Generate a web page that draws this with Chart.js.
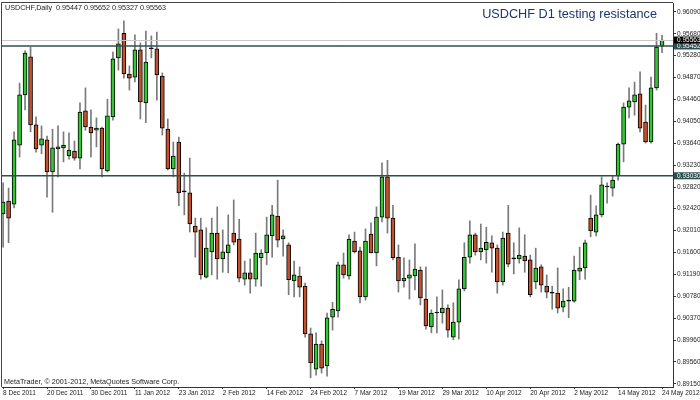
<!DOCTYPE html>
<html>
<head>
<meta charset="utf-8">
<script src="https://cdn.jsdelivr.net/npm/chart.js@4.4.1/dist/chart.umd.min.js"></script>
<style>
  html, body { margin: 0; padding: 0; background: #fff; }
  #wrap { width: 700px; height: 400px; }
</style>
</head>
<body>
<div id="wrap"><canvas id="chart" width="700" height="400"></canvas></div>
<script>
// ===== Datos =====
const dateLabels = ['8 Dec 2011','20 Dec 2011','30 Dec 2011','11 Jan 2012','23 Jan 2012','2 Feb 2012','14 Feb 2012','24 Feb 2012',
  '7 Mar 2012','19 Mar 2012','29 Mar 2012','10 Apr 2012','20 Apr 2012','2 May 2012','14 May 2012','24 May 2012'];
const priceTicks = [0.96090,0.95680,0.95280,0.94870,0.94460,0.94050,0.93640,0.93230,0.92820,0.92420,0.92010,0.91600,0.91190,0.90780,0.90370,0.89960,0.89560,0.89150];
const levels = [0.95452, 0.93030];
const bidPrice = 0.95563;

const openP = [0.9232,0.9256,0.9250,0.9360,0.9454,0.9525,0.9398,0.9360,0.9370,0.9310,
  0.9353,0.9355,0.9340,0.9349,0.9336,0.9424,0.9394,0.9388,0.9392,0.9312,
  0.9413,0.9523,0.9569,0.9493,0.9487,0.9538,0.9439,0.9540,0.9540,0.9489,
  0.9390,0.9316,0.9366,0.9273,0.9271,0.9209,0.9202,0.9114,0.9161,0.9196,
  0.9148,0.9159,0.9196,0.9185,0.9110,0.9122,0.9110,0.9150,0.9159,0.9191,
  0.9228,0.9185,0.9174,0.9107,0.9116,0.9097,0.9008,0.8942,0.8989,0.8948,
  0.9039,0.9051,0.9137,0.9116,0.9181,0.9163,0.9077,0.9194,0.9159,0.9226,
  0.9301,0.9224,0.9151,0.9107,0.9112,0.9116,0.9127,0.9073,0.9021,0.9047,
  0.9047,0.9056,0.9002,0.9030,0.9092,0.9151,0.9193,0.9161,0.9165,0.9178,
  0.9168,0.9105,0.9196,0.9148,0.9148,0.9153,0.9146,0.9105,0.9133,0.9097,
  0.9084,0.9084,0.9058,0.9069,0.9069,0.9125,0.9131,0.9224,0.9198,0.9230,
  0.9282,0.9280,0.9303,0.9362,0.9431,0.9441,0.9456,0.9403,0.9366,0.9467,
  0.95447];
const highP = [0.9290,0.9280,0.9385,0.9476,0.9536,0.9543,0.9413,0.9396,0.9377,0.9390,
  0.9396,0.9385,0.9383,0.9368,0.9439,0.9467,0.9426,0.9411,0.9394,0.9446,
  0.9534,0.9577,0.9592,0.9508,0.9566,0.9551,0.9573,0.9564,0.9571,0.9495,
  0.9409,0.9366,0.9375,0.9308,0.9336,0.9224,0.9224,0.9206,0.9224,0.9245,
  0.9202,0.9230,0.9258,0.9222,0.9144,0.9148,0.9196,0.9165,0.9226,0.9248,
  0.9295,0.9202,0.9178,0.9144,0.9133,0.9103,0.9019,0.9010,0.8995,0.9047,
  0.9067,0.9142,0.9159,0.9193,0.9198,0.9170,0.9204,0.9215,0.9245,0.9327,
  0.9332,0.9248,0.9174,0.9150,0.9146,0.9176,0.9133,0.9133,0.9053,0.9077,
  0.9090,0.9062,0.9066,0.9109,0.9178,0.9219,0.9196,0.9213,0.9207,0.9191,
  0.9174,0.9198,0.9248,0.9178,0.9206,0.9193,0.9155,0.9168,0.9137,0.9118,
  0.9097,0.9131,0.9092,0.9095,0.9153,0.9170,0.9183,0.9267,0.9247,0.9301,
  0.9290,0.9304,0.9364,0.9439,0.9467,0.9478,0.9497,0.9435,0.9487,0.9569,
  0.95652];
const lowP = [0.9170,0.9178,0.9243,0.9338,0.9426,0.9385,0.9347,0.9344,0.9263,0.9235,
  0.9301,0.9329,0.9334,0.9332,0.9316,0.9388,0.9338,0.9357,0.9301,0.9310,
  0.9407,0.9500,0.9485,0.9463,0.9478,0.9409,0.9402,0.9523,0.9444,0.9379,
  0.9314,0.9301,0.9247,0.9230,0.9198,0.9151,0.9110,0.9112,0.9118,0.9110,
  0.9123,0.9122,0.9174,0.9105,0.9099,0.9084,0.9097,0.9097,0.9137,0.9151,
  0.9170,0.9153,0.9081,0.9077,0.9077,0.9002,0.8926,0.8931,0.8935,0.8929,
  0.9015,0.9039,0.9112,0.9110,0.9159,0.9066,0.9071,0.9159,0.9135,0.9217,
  0.9196,0.9146,0.9086,0.9095,0.9073,0.9090,0.9062,0.9017,0.9010,0.9010,
  0.9028,0.9002,0.8997,0.8998,0.9088,0.9140,0.9155,0.9146,0.9140,0.9123,
  0.9084,0.9099,0.9133,0.9120,0.9140,0.9123,0.9077,0.9092,0.9086,0.9075,
  0.9054,0.9047,0.9049,0.9038,0.9067,0.9109,0.9110,0.9189,0.9191,0.9226,
  0.9252,0.9265,0.9295,0.9329,0.9411,0.9416,0.9385,0.9364,0.9364,0.9463,
  0.95327];
const closeP = [0.9254,0.9224,0.9370,0.9454,0.9532,0.9398,0.9353,0.9372,0.9310,0.9355,
  0.9357,0.9360,0.9351,0.9336,0.9422,0.9394,0.9383,0.9392,0.9316,0.9415,
  0.9521,0.9549,0.9493,0.9485,0.9538,0.9441,0.9515,0.9540,0.9491,0.9392,
  0.9316,0.9340,0.9271,0.9273,0.9213,0.9198,0.9118,0.9168,0.9196,0.9148,
  0.9161,0.9174,0.9179,0.9112,0.9122,0.9110,0.9159,0.9159,0.9193,0.9230,
  0.9183,0.9191,0.9109,0.9118,0.9095,0.9008,0.8954,0.8989,0.8944,0.9038,
  0.9054,0.9137,0.9118,0.9185,0.9161,0.9077,0.9181,0.9159,0.9226,0.9301,
  0.9224,0.9150,0.9107,0.9112,0.9118,0.9129,0.9075,0.9023,0.9047,0.9047,
  0.9056,0.9015,0.9030,0.9092,0.9151,0.9193,0.9161,0.9168,0.9179,0.9168,
  0.9105,0.9187,0.9138,0.9148,0.9155,0.9144,0.9081,0.9131,0.9099,0.9086,
  0.9084,0.9056,0.9069,0.9069,0.9127,0.9131,0.9178,0.9200,0.9230,0.9286,
  0.9282,0.9295,0.9362,0.9431,0.9443,0.9454,0.9392,0.9366,0.9467,0.9543,
  0.95563];

const UP = '#33c733', DOWN = '#c4512b', DOJI = '#000000';
const LINE = '#2f4f4f';

const bodies = openP.map((o, i) => ({ x: i, y: [o, closeP[i]] }));
const wicks = lowP.map((l, i) => ({ x: i, y: [l, highP[i]] }));
const bodyColors = openP.map((o, i) => closeP[i] > o ? UP : (closeP[i] < o ? DOWN : DOJI));

// ===== Decoración (líneas, textos, marco) =====
const decor = {
  id: 'decor',
  afterDatasetsDraw(chart) {
    const { ctx, chartArea: a, scales: { y } } = chart;
    ctx.save();
    ctx.strokeStyle = '#c8c8c8';
    ctx.lineWidth = 1;
    let py = Math.round(y.getPixelForValue(bidPrice)) + 0.5;
    ctx.beginPath(); ctx.moveTo(a.left, py); ctx.lineTo(a.right, py); ctx.stroke();
    ctx.strokeStyle = LINE;
    ctx.lineWidth = 1.5;
    levels.forEach(v => {
      const ly = y.getPixelForValue(v);
      ctx.beginPath(); ctx.moveTo(a.left, ly); ctx.lineTo(a.right, ly); ctx.stroke();
    });
    ctx.restore();
  },
  afterDraw(chart) {
    const { ctx, chartArea: a, scales: { y } } = chart;
    ctx.save();
    // marco
    ctx.strokeStyle = '#444';
    ctx.lineWidth = 1;
    ctx.beginPath();
    ctx.moveTo(a.left - 0.5, a.bottom); ctx.lineTo(a.left - 0.5, a.top - 0.5); ctx.lineTo(a.right, a.top - 0.5);
    ctx.stroke();
    // etiquetas resaltadas
    ctx.font = '6.5px "Liberation Sans", Arial, sans-serif';
    ctx.textBaseline = 'middle';
    ctx.textAlign = 'left';
    const box = (v, bg) => {
      const by = y.getPixelForValue(v);
      ctx.fillStyle = bg;
      ctx.fillRect(a.right + 1, by - 3.5, 700 - a.right - 1, 7);
      ctx.fillStyle = '#fff';
      ctx.fillText(v.toFixed(5), a.right + 4, by + 0.5);
    };
    levels.forEach(v => box(v, LINE));
    box(bidPrice, '#000');
    // cabecera
    ctx.fillStyle = '#222';
    ctx.font = '7.2px "Liberation Sans", Arial, sans-serif';
    ctx.fillText('USDCHF,Daily  ' + openP[120].toFixed(5) + ' ' + highP[120].toFixed(5) + ' ' +
      lowP[120].toFixed(5) + ' ' + closeP[120].toFixed(5), 5, 8);
    ctx.fillText('MetaTrader, \u00A9 2001-2012, MetaQuotes Software Corp.', 4, 382.5);
    // título
    ctx.fillStyle = '#1c3470';
    ctx.font = '12.7px "Liberation Sans", Arial, sans-serif';
    ctx.textAlign = 'right';
    ctx.fillText('USDCHF D1 testing resistance', 657, 14);
    ctx.restore();
  }
};

new Chart(document.getElementById('chart').getContext('2d'), {
  type: 'bar',
  data: {
    datasets: [
      { data: bodies, backgroundColor: bodyColors, borderColor: '#000', borderWidth: 1, borderSkipped: false,
        barThickness: 4, minBarLength: 1, grouped: false, order: 0 },
      { data: wicks, backgroundColor: '#7a7a7a', borderWidth: 0, barThickness: 1, grouped: false, order: 1 }
    ]
  },
  options: {
    responsive: false,
    animation: false,
    devicePixelRatio: 1,
    layout: { padding: { left: 2, top: 3, right: 0, bottom: 0 } },
    plugins: { legend: { display: false }, tooltip: { enabled: false }, title: { display: false } },
    scales: {
      x: {
        type: 'linear', min: -0.2, max: 122, offset: false, bounds: 'data',
        grid: { display: true, drawOnChartArea: false, offset: false, tickLength: 2, color: '#333' },
        border: { display: true, color: '#333' },
        afterBuildTicks: s => { s.ticks = dateLabels.map((d, k) => ({ value: k * 8 })); },
        afterFit: s => { s.height = 13; s.paddingLeft = 0; s.paddingRight = 0; },
        ticks: {
          autoSkip: false, maxRotation: 0, align: 'start', padding: 0, color: '#222',
          font: { family: '"Liberation Sans", Arial, sans-serif', size: 6.5 },
          callback: v => dateLabels[Math.round(v / 8)]
        }
      },
      y: {
        type: 'linear', position: 'right', min: 0.89089, max: 0.96254, bounds: 'data',
        grid: { display: true, drawOnChartArea: false, tickLength: 3, color: '#333' },
        border: { display: true, color: '#333' },
        afterBuildTicks: s => { s.ticks = priceTicks.map(v => ({ value: v })); },
        afterFit: s => { s.width = 27; s.paddingTop = 0; s.paddingBottom = 0; },
        ticks: {
          autoSkip: false, padding: 1, color: '#222',
          font: { family: '"Liberation Sans", Arial, sans-serif', size: 6.5 },
          callback: v => v.toFixed(5)
        }
      }
    }
  },
  plugins: [decor]
});
</script>
</body>
</html>
